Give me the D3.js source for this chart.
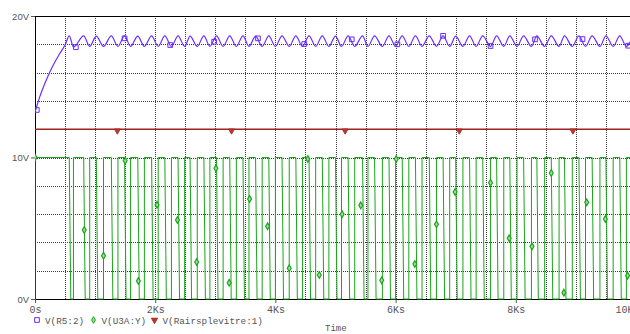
<!DOCTYPE html>
<html>
<head>
<meta charset="utf-8">
<script src="https://cdn.jsdelivr.net/npm/d3@7"></script>
<style>
  body { margin: 0; background: #fff; }
  svg { display: block; }
</style>
</head>
<body>
<script>
// time in Ks, voltages in V

// V(U3A:Y) square wave: rising / falling edge times
const greenRise = [0.64, 0.91, 1.14, 1.38, 1.59, 1.82, 2.05, 2.27, 2.49, 2.70,
                   2.91, 3.13, 3.35, 3.56, 3.78, 4.00, 4.23, 4.45, 4.67, 4.89,
                   5.10, 5.32, 5.54, 5.78, 6.00, 6.22, 6.44, 6.68, 6.90, 7.12,
                   7.34, 7.58, 7.80, 8.02, 8.26, 8.48, 8.72, 8.94, 9.16, 9.40,
                   9.62, 9.84]
const greenFall = [0.57, 0.81, 1.02, 1.27, 1.49, 1.71, 1.94, 2.16, 2.38, 2.58,
                   2.81, 3.02, 3.24, 3.46, 3.67, 3.89, 4.11, 4.34, 4.56, 4.78,
                   5.00, 5.21, 5.45, 5.65, 5.89, 6.11, 6.33, 6.56, 6.79, 7.00,
                   7.23, 7.45, 7.68, 7.90, 8.13, 8.35, 8.59, 8.81, 9.05, 9.27,
                   9.50, 9.73, 9.95]
const greenHigh = 10
const greenMarkT = [0, 0.82, 1.14, 1.50, 1.72, 2.03, 2.37, 2.69, 3.01, 3.23, 3.57,
                    3.87, 4.23, 4.54, 4.73, 5.11, 5.42, 5.77, 6.01, 6.32, 6.68,
                    6.99, 7.58, 7.89, 8.27, 8.59, 8.80, 9.18, 9.49, 9.86]
const greenMarkV = [10, 4.88, 3.06, 9.77, 1.27, 6.66, 5.58, 2.61, 9.24, 1.15, 7.07,
                    5.14, 2.17, 9.89, 1.70, 5.99, 6.62, 1.32, 9.89, 2.47, 5.28,
                    7.56, 8.22, 4.29, 3.72, 8.90, 0.45, 6.83, 5.65, 1.65]

// V(R5:2): charging curve, then ripple (peaks at green falls, troughs at green rises)
const blueStartT = [0, 0.08, 0.19, 0.30, 0.42, 0.50]
const blueStartV = [13.2, 14.3, 15.5, 16.5, 17.4, 17.95]
const bluePeakV = [18.6, 18.6, 18.58, 18.6, 18.6, 18.58, 18.6, 18.6, 18.6, 18.58,
                   18.6, 18.6, 18.6, 18.6, 18.58, 18.6, 18.6, 18.6, 18.6, 18.6,
                   18.58, 18.6, 18.6, 18.6, 18.6, 18.6, 18.6, 18.6, 18.6, 18.58,
                   18.6, 18.6, 18.6, 18.6, 18.6, 18.6, 18.6, 18.6, 18.6, 18.6,
                   18.6, 18.6, 18.6]
const blueTroughV = [17.8, 17.85, 17.85, 17.85, 17.85, 17.85, 17.85, 17.85, 17.85, 17.85,
                     17.85, 17.85, 17.85, 17.85, 17.85, 17.85, 17.85, 17.85, 17.85, 17.85,
                     17.85, 17.85, 17.85, 17.85, 17.85, 17.85, 17.85, 17.85, 17.85, 17.85,
                     17.85, 17.85, 17.85, 17.85, 17.85, 17.85, 17.85, 17.85, 17.85, 17.85,
                     17.85, 17.85]
const blueMarkT = [0.03, 0.68, 1.49, 2.25, 2.98, 3.71, 4.48, 5.27, 6.03, 6.79, 7.58, 8.32, 9.11, 9.87]
const blueMarkV = [13.36, 17.8, 18.42, 17.95, 18.18, 18.42, 18.02, 18.35, 18.0, 18.6, 17.88, 18.35, 18.37, 17.9]

// V(Rairsplevitre:1): constant
const redLevel = 12
const redMarkT = [1.37, 3.27, 5.16, 7.06, 8.95]

const xTicks = [0, 2, 4, 6, 8, 10]
const yTicks = [0, 10, 20]
const legendNames = ['V(R5:2)', 'V(U3A:Y)', 'V(Rairsplevitre:1)']

const COLORS = { blue: '#6a2cff', green: '#1aa51a', red: '#a32222', grid: '#3a3a3a', label: '#555' }
const MONO = '"Courier New", "Liberation Mono", monospace'

const width = 630, height = 334
const PLOT = { left: 35, right: 636, top: 16, bottom: 299 }

let x = d3.scaleLinear().domain([0, 10]).range([PLOT.left, PLOT.right])
let y = d3.scaleLinear().domain([0, 20]).range([PLOT.bottom, PLOT.top])

let svg = d3.select('body').append('svg')
  .attr('width', width)
  .attr('height', height)

svg.append('clipPath').attr('id', 'plot')
  .append('rect')
  .attr('x', PLOT.left).attr('y', PLOT.top - 4)
  .attr('width', PLOT.right - PLOT.left).attr('height', PLOT.bottom - PLOT.top + 8)

// grid
let grid = svg.append('g')
  .attr('stroke', COLORS.grid)
  .attr('stroke-dasharray', '1,1')
  .attr('shape-rendering', 'crispEdges')
grid.selectAll('.vg')
  .data(d3.range(0.5, 10, 0.5))
  .join('line')
    .attr('x1', (d) => Math.round(x(d)) + 0.5).attr('x2', (d) => Math.round(x(d)) + 0.5)
    .attr('y1', PLOT.top).attr('y2', PLOT.bottom)
grid.selectAll('.hg')
  .data(d3.range(2, 20, 2))
  .join('line')
    .attr('y1', (d) => Math.round(y(d)) + 0.5).attr('y2', (d) => Math.round(y(d)) + 0.5)
    .attr('x1', PLOT.left).attr('x2', PLOT.right)

// frame
let frame = svg.append('g').attr('stroke', '#000').attr('shape-rendering', 'crispEdges')
frame.append('line').attr('x1', PLOT.left + 0.5).attr('x2', PLOT.left + 0.5)
  .attr('y1', PLOT.top).attr('y2', PLOT.bottom).attr('stroke-width', 1.5)
frame.append('line').attr('x1', PLOT.left).attr('x2', PLOT.right)
  .attr('y1', PLOT.top + 0.5).attr('y2', PLOT.top + 0.5).attr('stroke-width', 1.5)
frame.append('line').attr('x1', PLOT.left).attr('x2', PLOT.right)
  .attr('y1', PLOT.bottom + 0.5).attr('y2', PLOT.bottom + 0.5).attr('stroke-width', 1.5)

// axes
let yAxis = svg.append('g')
  .attr('transform', 'translate(' + PLOT.left + ',0)')
  .call(d3.axisLeft(y).tickValues(yTicks).tickFormat((d) => d + 'V').tickSize(4).tickPadding(2).tickSizeOuter(0))
yAxis.select('.domain').remove()
yAxis.selectAll('line').attr('stroke', '#555')
yAxis.selectAll('text')
  .attr('fill', COLORS.label)
  .style('font-family', '"Liberation Sans", Arial, sans-serif')
  .style('font-size', '9.5px')

let xAxis = svg.append('g')
  .attr('transform', 'translate(0,' + PLOT.bottom + ')')
  .call(d3.axisBottom(x).tickValues(xTicks).tickFormat((d) => d === 0 ? '0s' : d + 'Ks').tickSize(4).tickPadding(3).tickSizeOuter(0))
xAxis.select('.domain').remove()
xAxis.selectAll('line').attr('stroke', '#555')
xAxis.selectAll('text')
  .attr('fill', COLORS.label)
  .style('font-family', MONO)
  .style('font-size', '10px')
  .attr('dx', (d) => d === 10 ? -9 : 0)   // last label sits at the window edge

let plot = svg.append('g').attr('clip-path', 'url(#plot)')

// green square wave
const SLANT = 0.025
let greenPts = [[0, 0], [0, greenHigh], [greenFall[0], greenHigh], [greenFall[0] + SLANT, 0]]
greenRise.forEach((r, i) => {
  let f = greenFall[i + 1]
  greenPts.push([r, 0], [r, greenHigh], [f, greenHigh], [f + SLANT, 0])
})
let line = d3.line().x((d) => x(d[0])).y((d) => y(d[1]))
plot.append('path')
  .attr('d', line(greenPts))
  .attr('fill', 'none')
  .attr('stroke', COLORS.green)
  .attr('stroke-width', 1)

// red constant line
plot.append('path')
  .attr('d', line([[0, redLevel], [10, redLevel]]))
  .attr('stroke', COLORS.red)
  .attr('stroke-width', 1.5)

// blue ripple
let bluePts = blueStartT.map((t, i) => [t, blueStartV[i]])
bluePts.push([greenFall[0], bluePeakV[0]])
greenRise.forEach((r, i) => {
  bluePts.push([r, blueTroughV[i]], [greenFall[i + 1], bluePeakV[i + 1]])
})
plot.append('path')
  .attr('d', d3.line().x((d) => x(d[0])).y((d) => y(d[1])).curve(d3.curveMonotoneX)(bluePts))
  .attr('fill', 'none')
  .attr('stroke', COLORS.blue)
  .attr('stroke-width', 1.2)

// markers
let sqr = d3.symbol(d3.symbolSquare, 22)
let dia = d3.symbol(d3.symbolDiamond, 13)
let tri = d3.symbol(d3.symbolTriangle, 16)

plot.selectAll('.gm')
  .data(greenMarkT.map((t, i) => [t, greenMarkV[i]]))
  .join('path')
    .attr('d', dia)
    .attr('transform', (d) => 'translate(' + [x(d[0]), y(d[1])] + ')')
    .attr('fill', '#9be39b').attr('stroke', COLORS.green).attr('stroke-width', 1.2)

plot.selectAll('.bm')
  .data(blueMarkT.map((t, i) => [t, blueMarkV[i]]))
  .join('path')
    .attr('d', sqr)
    .attr('transform', (d) => 'translate(' + [x(d[0]), y(d[1])] + ')')
    .attr('fill', 'none').attr('stroke', COLORS.blue).attr('stroke-width', 1)

plot.selectAll('.rm')
  .data(redMarkT)
  .join('path')
    .attr('d', tri)
    .attr('transform', (d) => 'translate(' + [x(d), y(redLevel) + 1.5] + ') rotate(180)')
    .attr('fill', '#c0392b').attr('stroke', COLORS.red).attr('stroke-width', 0.8)

// legend
let legend = svg.append('g').attr('transform', 'translate(0,320)')
let legendItems = [
  { x: 37, name: legendNames[0], sym: sqr, fill: 'none', stroke: COLORS.blue, rot: 0 },
  { x: 93.5, name: legendNames[1], sym: dia, fill: '#9be39b', stroke: COLORS.green, rot: 0 },
  { x: 154.5, name: legendNames[2], sym: tri, fill: '#c0392b', stroke: COLORS.red, rot: 180 }
]
legendItems.forEach((it) => {
  legend.append('path')
    .attr('d', it.sym)
    .attr('transform', 'translate(' + it.x + ',0) rotate(' + it.rot + ')')
    .attr('fill', it.fill).attr('stroke', it.stroke).attr('stroke-width', 1)
  legend.append('text')
    .attr('x', it.x + 8).attr('y', 3.5)
    .attr('fill', COLORS.label)
    .style('font-family', MONO)
    .style('font-size', '9.3px')
    .text(it.name)
})

svg.append('text')
  .attr('x', 325).attr('y', 331)
  .attr('fill', COLORS.label)
  .style('font-family', MONO)
  .style('font-size', '9px')
  .text('Time')
</script>
</body>
</html>
